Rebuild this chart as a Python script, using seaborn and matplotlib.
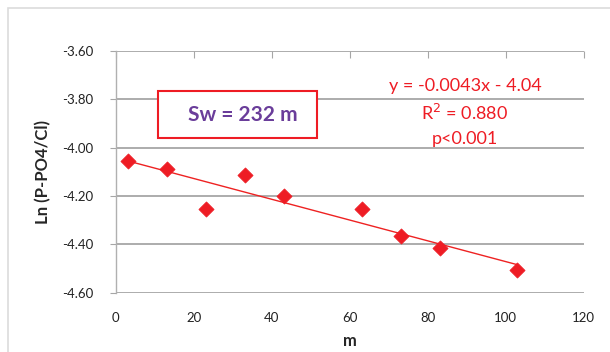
import numpy as np
import pandas as pd
import matplotlib.pyplot as plt
import seaborn as sns
from matplotlib.patches import Rectangle

# Data
distance_m = [3, 13, 23, 33, 43, 63, 73, 83, 103]
ln_ratio = [-4.053, -4.088, -4.254, -4.114, -4.198, -4.254, -4.366, -4.415, -4.507]
x_ticks = [0, 20, 40, 60, 80, 100, 120]
y_ticks = [-3.60, -3.80, -4.00, -4.20, -4.40, -4.60]

df = pd.DataFrame({"m": distance_m, "ln": ln_ratio})

sns.set_style("white")
plt.rcParams['font.family'] = ['Lato', 'DejaVu Sans']

fig = plt.figure(figsize=(6.1, 3.52), dpi=100)
ax = fig.add_axes([0.190, 0.168, 0.767, 0.687])

# light chart-area border (top and left edge)
fig.patches.append(Rectangle((8 / 610, -0.1), 1.2, 1 - 8 / 352 + 0.1, transform=fig.transFigure,
                             fill=False, edgecolor="#dcdcdc", linewidth=1.2, zorder=0))

ax.set_xlim(0, 120)
ax.set_ylim(-4.60, -3.60)
ax.set_xticks(x_ticks)
ax.set_yticks(y_ticks)
ax.set_yticklabels([f"{v:.2f}" for v in y_ticks])

for v in y_ticks:
    ax.axhline(v, color="#a6a6a6", linewidth=1.3, zorder=1)

sns.regplot(data=df, x="m", y="ln", scatter=False, ci=None, truncate=True,
            color="#ee2222", line_kws={"linewidth": 1.0, "zorder": 3}, ax=ax)
sns.scatterplot(data=df, x="m", y="ln", marker="D", s=60, color="#ee1c24",
                edgecolor="#ee1c24", linewidth=0.5, zorder=4, ax=ax)

for side in ["top", "right", "bottom"]:
    ax.spines[side].set_visible(False)
ax.spines["left"].set_color("#b0b0b0")
ax.spines["left"].set_linewidth(1.0)

ax.tick_params(axis="y", left=True, length=4, color="#a6a6a6", labelsize=9.5, pad=12, labelcolor="#222222")
ax.tick_params(axis="x", bottom=False, top=True, direction="in", length=5, color="#a6a6a6",
               labelbottom=True, labeltop=False, labelsize=9.5, pad=14, labelcolor="#222222")

ax.set_xlabel("m", fontsize=12, fontweight="bold", labelpad=6)
ax.set_ylabel("Ln (P-PO4/Cl)", fontsize=12, fontweight="bold", labelpad=8)

ax.text(465 / 610, 1 - 86 / 352, "y = -0.0043x - 4.04", transform=fig.transFigure,
        ha="center", va="center", color="#ee1c24", fontsize=13)
ax.text(465 / 610, 1 - 113 / 352, "R$^2$ = 0.880", transform=fig.transFigure,
        ha="center", va="center", color="#ee1c24", fontsize=13)
ax.text(465 / 610, 1 - 139 / 352, "p<0.001", transform=fig.transFigure,
        ha="center", va="center", color="#ee1c24", fontsize=13)

fig.patches.append(Rectangle((158 / 610, 1 - 138 / 352), 159 / 610, 47 / 352, transform=fig.transFigure,
                             facecolor="white", edgecolor="#ee1c24", linewidth=1.5, zorder=5))
fig.text(243 / 610, 1 - 115 / 352, "Sw = 232 m", ha="center", va="center",
         color="#6a3d9a", fontsize=15, fontweight="bold", zorder=6)

fig.savefig("out.png", dpi=100)
